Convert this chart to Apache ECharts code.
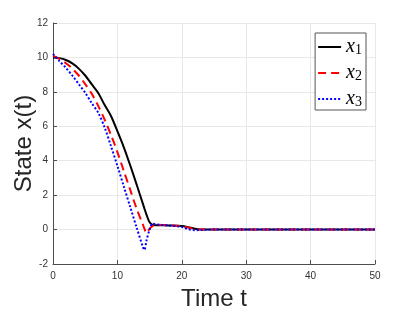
<!DOCTYPE html>
<html><head><meta charset="utf-8">
<script src="https://cdn.jsdelivr.net/npm/echarts@6/dist/echarts.min.js"></script>
<style>html,body{margin:0;padding:0;background:#fff}#c{width:415px;height:312px}</style>
</head><body><div id="c"></div>
<script>
const timeT = [0,1,2,3,4,5,6,7,8,9,10,11,12,13,14,14.2,14.5,15,15.5,16,18,20,21,22,23,25,30,40,50];
const x1 = [10.0,9.96,9.85,9.65,9.35,8.95,8.45,7.95,7.25,6.6,5.72,4.78,3.72,2.6,1.45,1.22,0.88,0.42,0.27,0.25,0.24,0.21,0.14,0.05,0.01,0,0,0,0];
const x2 = [10.1,9.9,9.66,9.35,8.95,8.45,7.9,7.2,6.4,5.5,4.5,3.4,2.3,1.2,0.25,0.05,-0.2,0.05,0.22,0.28,0.25,0.2,0.12,0.03,0,0,0,0,0];
const x3 = [10.2,9.78,9.4,8.95,8.45,7.95,7.35,6.8,5.95,4.85,3.7,2.5,1.3,0.1,-1.05,-1.18,-0.66,0.0,0.36,0.3,0.24,0.15,0.02,-0.04,-0.02,0,0,0,0];
const seriesNames = ['x1','x2','x3'];
const xTicks = {min:0,max:50,interval:10};
const yTicks = {min:-2,max:12,interval:2};

const pairs = arr => timeT.map((t,i)=>[t,arr[i]]);
const chart = echarts.init(document.getElementById('c'));
const axisCol = '#4d4d4d';
chart.setOption({
  animation:false,
  grid:{left:53,right:40,top:23,bottom:48,outerBoundsMode:'none',containLabel:false},
  legend:{
    right:49, top:33, orient:'vertical',
    backgroundColor:'#fff', borderColor:'#555', borderWidth:1, borderRadius:0,
    padding:[3,4,1,2], itemWidth:23, itemHeight:8, itemGap:5,
    itemStyle:{opacity:0},
    data:seriesNames,
    formatter: n => '{x|x}{s|' + n.slice(1) + '}',
    textStyle:{
      rich:{
        x:{fontFamily:'Liberation Serif',fontStyle:'italic',fontSize:20,color:'#000',verticalAlign:'bottom',lineHeight:20},
        s:{fontFamily:'Liberation Serif',fontSize:14,color:'#000',verticalAlign:'bottom',lineHeight:14,padding:[7,0,0,0]}
      }
    }
  },
  xAxis:{
    type:'value', min:xTicks.min, max:xTicks.max, interval:xTicks.interval,
    name:'Time t', nameLocation:'middle', nameGap:23, nameMoveOverlap:false,
    nameTextStyle:{fontFamily:'Liberation Sans',fontSize:24,color:'#262626'},
    axisLine:{show:true,onZero:false,lineStyle:{color:axisCol,width:1}},
    axisTick:{show:true,inside:true,length:4,lineStyle:{color:axisCol}},
    axisLabel:{fontFamily:'Liberation Sans',fontSize:10,color:'#333',margin:7},
    splitLine:{show:true,lineStyle:{color:'#e8e8e8',width:1}}
  },
  yAxis:{
    type:'value', min:yTicks.min, max:yTicks.max, interval:yTicks.interval,
    name:'State x(t)', nameLocation:'middle', nameGap:17, nameMoveOverlap:false,
    nameTextStyle:{fontFamily:'Liberation Sans',fontSize:24,color:'#262626'},
    axisLine:{show:true,onZero:false,lineStyle:{color:axisCol,width:1}},
    axisTick:{show:true,inside:true,length:4,lineStyle:{color:axisCol}},
    axisLabel:{fontFamily:'Liberation Sans',fontSize:10,color:'#333',margin:5},
    splitLine:{show:true,lineStyle:{color:'#e8e8e8',width:1}}
  },
  series:[
    {name:'x1',type:'line',data:pairs(x1),symbol:'none',smooth:0.3,z:3,
      lineStyle:{color:'#000',width:2,type:'solid'},itemStyle:{color:'#000'}},
    {name:'x2',type:'line',data:pairs(x2),symbol:'none',smooth:0.3,z:4,
      lineStyle:{color:'#ff0000',width:2,type:[8,5]},itemStyle:{color:'#ff0000'}},
    {name:'x3',type:'line',data:pairs(x3),symbol:'none',smooth:0.3,z:5,
      lineStyle:{color:'#0000ff',width:2,type:[2,2]},itemStyle:{color:'#0000ff'}}
  ]
});
</script></body></html>
